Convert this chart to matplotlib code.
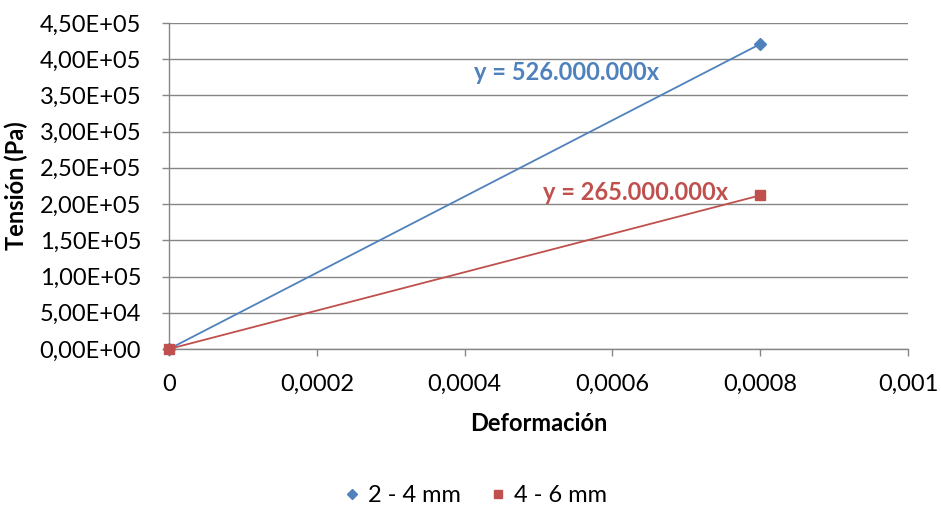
import matplotlib

matplotlib.use("Agg")
import matplotlib.pyplot as plt
from matplotlib.ticker import FuncFormatter

# strain (Deformación) vs stress (Tensión) for two particle size ranges
deformacion = [0.0, 0.0008]
tension_2_4 = [0.0, 420800.0]
tension_4_6 = [0.0, 212000.0]
series_labels = ["2 - 4 mm", "4 - 6 mm"]
ecuaciones = ["y = 526.000.000x", "y = 265.000.000x"]

BLUE = "#4F81BD"
RED = "#C0504D"
GRID = "#868686"

plt.rcParams["font.family"] = ["Lato", "DejaVu Sans"]
FS = 17

fig = plt.figure(figsize=(9.41, 5.08), dpi=100)
ax = fig.add_axes([0.1796, 0.313, 0.7854, 0.642])

ax.plot(deformacion, tension_2_4, color=BLUE, lw=1.3, marker="D", ms=6.5,
        label=series_labels[0], zorder=3, clip_on=False)
ax.plot(deformacion, tension_4_6, color=RED, lw=1.3, marker="s", ms=7.5,
        label=series_labels[1], zorder=4, clip_on=False)

ax.set_xlim(0, 0.001)
ax.set_ylim(0, 450000)
ax.set_xticks([0, 0.0002, 0.0004, 0.0006, 0.0008, 0.001])
ax.set_yticks([i * 50000 for i in range(10)])


def fmt_x(v, _):
    if v == 0:
        return "0"
    return f"{v:.4f}".rstrip("0").replace(".", ",")


def fmt_y(v, _):
    return f"{v:.2E}".replace(".", ",")


ax.xaxis.set_major_formatter(FuncFormatter(fmt_x))
ax.yaxis.set_major_formatter(FuncFormatter(fmt_y))
ax.tick_params(axis="both", color=GRID, length=5, width=1, labelsize=FS)
ax.tick_params(axis="x", pad=13)
ax.tick_params(axis="y", pad=15)

ax.grid(axis="y", color=GRID, lw=1)
ax.set_axisbelow(True)
for side in ["top", "right"]:
    ax.spines[side].set_visible(False)
for side in ["left", "bottom"]:
    ax.spines[side].set_color(GRID)
    ax.spines[side].set_linewidth(1)

ax.set_xlabel("Deformación", fontsize=FS, fontweight="bold", labelpad=12)
ax.set_ylabel("Tensión (Pa)", fontsize=FS, fontweight="bold", labelpad=8)

ax.text(0.000538, 381000, ecuaciones[0], color=BLUE, fontsize=FS,
        fontweight="bold", ha="center", va="center")
ax.text(0.000631, 215300, ecuaciones[1], color=RED, fontsize=FS,
        fontweight="bold", ha="center", va="center")

fig.legend(loc="center", bbox_to_anchor=(0.505, 0.024), ncol=2, frameon=False,
           fontsize=FS, handlelength=0.7, handletextpad=0.3, columnspacing=1.25,
           markerscale=0.75)
for line in fig.legends[0].get_lines():
    line.set_linestyle("none")

fig.savefig("out.png", dpi=100)
